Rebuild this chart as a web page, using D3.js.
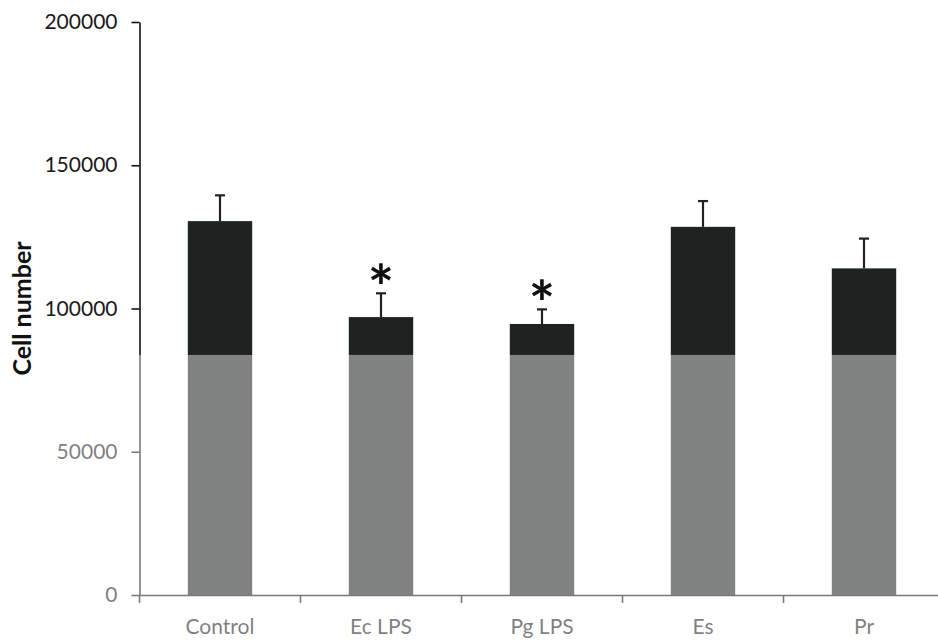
<!DOCTYPE html>
<html>
<head>
<meta charset="utf-8">
<script src="https://cdn.jsdelivr.net/npm/d3@7"></script>
<style>
  html, body { margin: 0; padding: 0; background: #ffffff; }
  svg { display: block; }
  text { font-family: Lato, "Open Sans", sans-serif; }
</style>
</head>
<body>
<svg id="chart" width="938" height="642"></svg>
<script>
// Cell counts per treatment (mean with upper error bar)
const categories = ["Control", "Ec LPS", "Pg LPS", "Es", "Pr"];
const means      = [130500, 97000, 94600, 128500, 114000];
const errors     = [9000, 8300, 5100, 9000, 10400];
const significant = [false, true, true, false, false];
const yTicks     = [0, 50000, 100000, 150000, 200000];
const yLabel     = "Cell number";

const svg = d3.select("#chart");
const W = 938, H = 642;

const plot = { left: 139.5, right: 944.5, top: 22, bottom: 595 };

const x = d3.scaleBand()
  .domain(categories)
  .range([plot.left, plot.right])
  .paddingInner(0.6)
  .paddingOuter(0.3);

const y = d3.scaleLinear()
  .domain([0, 200000])
  .range([plot.bottom, plot.top]);

const ink = "#1e2220";

// Bars
svg.append("g")
  .selectAll("rect")
  .data(categories)
  .join("rect")
  .attr("x", d => x(d))
  .attr("width", x.bandwidth())
  .attr("y", (d, i) => y(means[i]))
  .attr("height", (d, i) => y(0) - y(means[i]))
  .attr("fill", ink);

// Upper error bars
const eb = svg.append("g").attr("stroke", ink).attr("stroke-width", 2.2);
categories.forEach((c, i) => {
  const cx = x(c) + x.bandwidth() / 2;
  const top = y(means[i] + errors[i]);
  eb.append("line")
    .attr("x1", cx).attr("x2", cx)
    .attr("y1", y(means[i])).attr("y2", top);
  eb.append("line")
    .attr("x1", cx - 5).attr("x2", cx + 5)
    .attr("y1", top).attr("y2", top);
});

// Significance markers
svg.append("g")
  .selectAll("text")
  .data(categories.filter((c, i) => significant[i]))
  .join("text")
  .attr("x", d => x(d) + x.bandwidth() / 2)
  .attr("y", d => {
    const i = categories.indexOf(d);
    return y(means[i] + errors[i]) + 17;
  })
  .attr("text-anchor", "middle")
  .attr("font-size", 62)
  .attr("font-weight", "bold")
  .attr("fill", "#111")
  .text("*");

// Y axis
const yAxis = svg.append("g")
  .attr("transform", `translate(${plot.left},0)`)
  .call(d3.axisLeft(y).tickValues(yTicks).tickSizeInner(8).tickSizeOuter(0).tickPadding(14)
        .tickFormat(d3.format("d")));
yAxis.selectAll("text").attr("font-size", 21).attr("fill", "#1a1a1a");
yAxis.selectAll("line, path").attr("stroke", "#111").attr("stroke-width", 1.6);

// X axis: labels centred on bars, tick marks on category boundaries
const xAxis = svg.append("g")
  .attr("transform", `translate(0,${plot.bottom})`)
  .call(d3.axisBottom(x).tickSize(0).tickPadding(24));
xAxis.select(".domain")
  .attr("d", `M${plot.left},0.5H${W}`)
  .attr("stroke", "#111").attr("stroke-width", 1.6);
xAxis.selectAll("text").attr("font-size", 21).attr("fill", "#1a1a1a");

svg.append("g")
  .attr("stroke", "#111").attr("stroke-width", 1.6)
  .selectAll("line")
  .data(d3.range(categories.length))
  .join("line")
  .attr("x1", i => plot.left + i * x.step())
  .attr("x2", i => plot.left + i * x.step())
  .attr("y1", plot.bottom)
  .attr("y2", plot.bottom + 8);

// Y axis title
svg.append("text")
  .attr("transform", `translate(31,${(y(0) + y(200000)) / 2}) rotate(-90)`)
  .attr("text-anchor", "middle")
  .attr("font-size", 25)
  .attr("font-weight", "bold")
  .attr("fill", "#111")
  .text(yLabel);

// Faded lower region of the figure
svg.append("rect")
  .attr("x", 45).attr("y", y(83800))
  .attr("width", W - 45).attr("height", H - y(83800))
  .attr("fill", "#ffffff")
  .attr("opacity", 0.44);
</script>
</body>
</html>
